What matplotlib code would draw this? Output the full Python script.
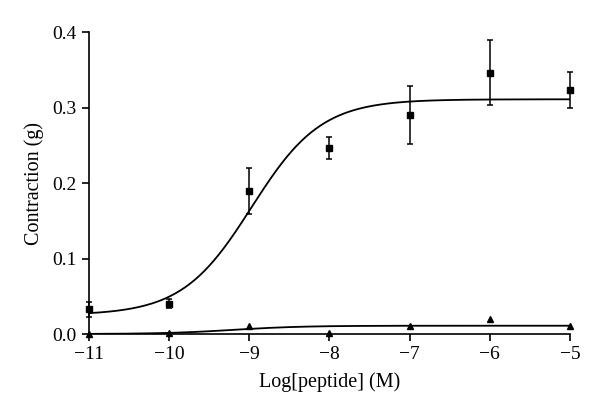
import numpy as np
import matplotlib
matplotlib.use('Agg')
from matplotlib import pyplot as plt

plt.rcParams['font.family'] = ['Liberation Serif', 'DejaVu Serif']
plt.rcParams['axes.unicode_minus'] = True

# log concentration
log_conc = [-11, -10, -9, -8, -7, -6, -5]
# peptide response (squares) with SEM
sq_mean = [0.033, 0.040, 0.189, 0.247, 0.290, 0.346, 0.323]
sq_err_up = [0.010, 0.006, 0.031, 0.014, 0.038, 0.043, 0.024]
sq_err_dn = [0.010, 0.006, 0.030, 0.015, 0.038, 0.042, 0.024]
# second group (triangles)
tri_mean = [0.000, 0.001, 0.010, 0.001, 0.010, 0.020, 0.010]

# fitted sigmoid parameters: bottom, top, logEC50, hill slope
fit_sq = (0.025, 0.311, -8.97, 1.0)
fit_tri = (0.0, 0.011, -9.2, 1.0)


def hill(x, p):
    b, t, ec, h = p
    return b + (t - b) / (1 + 10 ** ((ec - x) * h))


fig = plt.figure(figsize=(6, 4.17), dpi=100)
ax = fig.add_axes([0.148, 0.199, 0.802, 0.724])

xx = np.linspace(-11, -5, 300)
ax.plot(xx, hill(xx, fit_sq), color='black', lw=1.3)
ax.plot(xx, hill(xx, fit_tri), color='black', lw=1.3)

ax.errorbar(log_conc, sq_mean, yerr=[sq_err_dn, sq_err_up], fmt='s', color='black',
            ms=4.5, elinewidth=1.1, capsize=2.2, capthick=1.1, clip_on=False, zorder=3)
ax.plot(log_conc, tri_mean, '^', color='black', ms=4.5, clip_on=False, zorder=3)

ax.set_xlim(-11, -5)
ax.set_ylim(0, 0.4)
ax.set_xticks(range(-11, -4))
ax.set_yticks([0.0, 0.1, 0.2, 0.3, 0.4])
ax.set_yticklabels(['0.0', '0.1', '0.2', '0.3', '0.4'])
ax.spines['top'].set_visible(False)
ax.spines['right'].set_visible(False)
ax.spines['left'].set_linewidth(1.2)
ax.spines['bottom'].set_linewidth(1.2)
ax.tick_params(labelsize=14, width=1.2, length=5, direction='out')

ax.set_xlabel('Log[peptide] (M)', fontsize=14.5, labelpad=7)
ax.set_ylabel('Contraction (g)', fontsize=14.5, labelpad=6)

fig.savefig('out.png', dpi=100)
